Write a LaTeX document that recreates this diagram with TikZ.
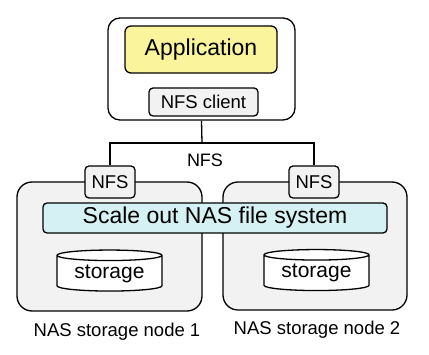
\documentclass[tikz,border=0pt]{standalone}
\usepackage{fontspec}
\setmainfont{Liberation Sans}
\usepackage{tikz}
\usetikzlibrary{positioning,shapes.geometric}
\usepackage{xcolor}
\definecolor{appyellow}{HTML}{FAF59C}
\definecolor{fscyan}{HTML}{D6F1F4}
\definecolor{boxgray}{HTML}{F2F2F2}
\tikzset{
  host/.style={draw,line width=1.3pt,rounded corners=12pt,fill=white},
  nasnode/.style={draw,line width=1.3pt,rounded corners=15pt,fill=boxgray},
  app/.style={draw,line width=1.3pt,rounded corners=6pt,fill=appyellow,
    font=\fontsize{23}{26}\selectfont},
  proto/.style={draw,line width=1.3pt,rounded corners=4pt,fill=boxgray,
    font=\fontsize{18.5}{21}\selectfont},
  fsbar/.style={draw,line width=1.3pt,rounded corners=4pt,fill=fscyan,
    font=\fontsize{23}{26}\selectfont},
  disk/.style={draw,line width=1.3pt,fill=white,cylinder,shape border rotate=90,
    aspect=0.15,font=\fontsize{21}{24}\selectfont},
  link/.style={draw,line width=1.3pt},
  caption/.style={font=\fontsize{18.5}{21}\selectfont}
}
\begin{document}
\begin{tikzpicture}[x=1pt,y=-1pt]
  \useasboundingbox (0,0) rectangle (429,355);
  % client host
  \node[host,minimum width=187pt,minimum height=102pt] (client) at (201.5,69) {};
  \node[app,minimum width=152pt,minimum height=47pt] (app) at (201,49.5) {Application};
  \node[proto,minimum width=109pt,minimum height=28pt,inner sep=0pt] (nfsc) at (203.5,102) {NFS client};
  % storage nodes
  \node[nasnode,minimum width=185pt,minimum height=129pt] (node1) at (109.5,246.5) {};
  \node[nasnode,minimum width=184pt,minimum height=128pt] (node2) at (315,246) {};
  \node[fsbar,minimum width=344pt,minimum height=30pt,inner sep=0pt] (fs) at (215,218) {Scale out NAS file system};
  \node[proto,minimum width=50pt,minimum height=32pt,inner sep=0pt] (nfs1) at (110,182) {NFS};
  \node[proto,minimum width=50pt,minimum height=32pt,inner sep=0pt] (nfs2) at (314,182) {NFS};
  \node[disk,minimum width=105pt,minimum height=41pt,inner sep=0pt] (stor1) at (109.5,273.5) {storage};
  \node[disk,minimum width=105pt,minimum height=41pt,inner sep=0pt] (stor2) at (316.5,273) {storage};
  \node[caption] (cap1) at (117,332) {NAS storage node 1};
  \node[caption] (cap2) at (317,330) {NAS storage node 2};
  % network
  \coordinate (bus) at (202,143);
  \draw[link] (client.south) -- (bus);
  \draw[link] (nfs1.north) |- (bus) -| (nfs2.north);
  \node[font=\fontsize{18}{21}\selectfont] (nfslab) at (205,160) {NFS};
\end{tikzpicture}
\end{document}
